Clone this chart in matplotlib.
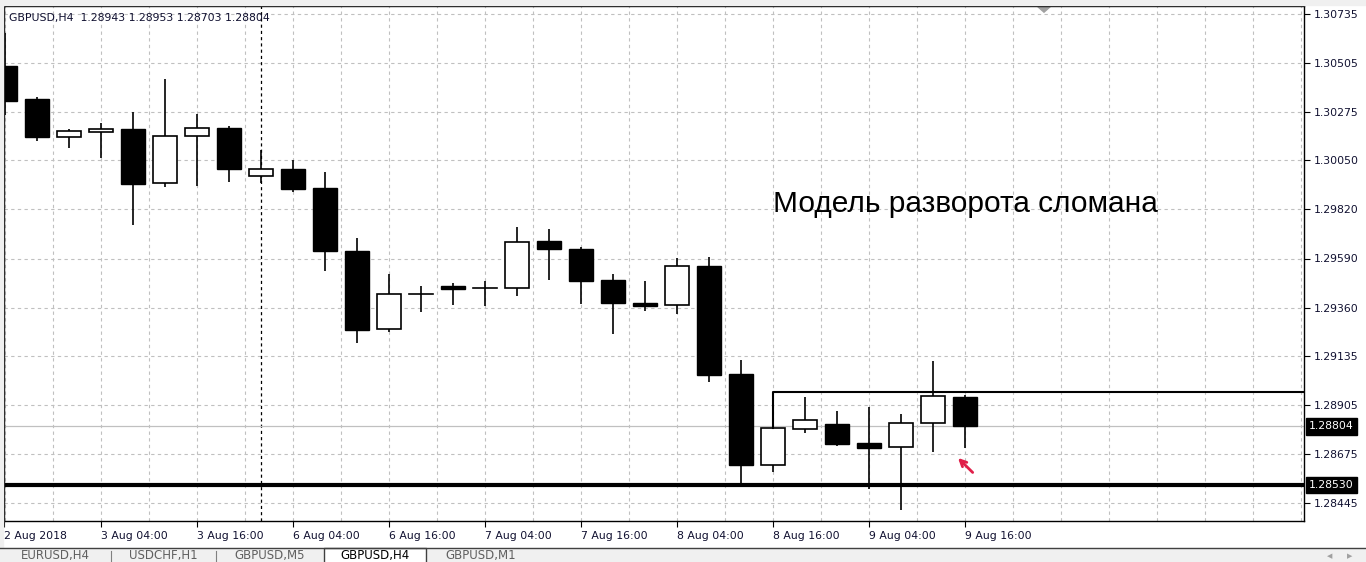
import numpy as np
import matplotlib.pyplot as plt
from matplotlib.patches import Rectangle, Polygon

# GBPUSD H4 candles (index 0 = first visible bar)
opens = [1.30491, 1.30337, 1.30158, 1.30181, 1.30198, 1.29942, 1.30165, 1.30201, 1.29975,
         1.30009, 1.29920, 1.29625, 1.29258, 1.29422, 1.29461, 1.29452, 1.29450, 1.29672,
         1.29635, 1.29489, 1.29382, 1.29371, 1.29555, 1.29049, 1.28622, 1.28790, 1.28815,
         1.28726, 1.28709, 1.28818, 1.28943]
closes = [1.30329, 1.30160, 1.30187, 1.30196, 1.29940, 1.30164, 1.30201, 1.30011, 1.30008,
          1.29917, 1.29627, 1.29255, 1.29422, 1.29422, 1.29449, 1.29452, 1.29666, 1.29633,
          1.29486, 1.29383, 1.29369, 1.29553, 1.29044, 1.28624, 1.28795, 1.28832, 1.28723,
          1.28704, 1.28818, 1.28946, 1.28804]
highs = [1.30646, 1.30346, 1.30196, 1.30225, 1.30276, 1.30431, 1.30267, 1.30211, 1.30097,
         1.30051, 1.29995, 1.29686, 1.29517, 1.29461, 1.29474, 1.29485, 1.29738, 1.29728,
         1.29644, 1.29517, 1.29485, 1.29592, 1.29598, 1.29115, 1.28796, 1.28941, 1.28876,
         1.28895, 1.28862, 1.29110, 1.28953]
lows = [1.30262, 1.30142, 1.30109, 1.30062, 1.29747, 1.29923, 1.29931, 1.29950, 1.29945,
        1.29900, 1.29533, 1.29196, 1.29247, 1.29341, 1.29372, 1.29368, 1.29416, 1.29491,
        1.29378, 1.29235, 1.29346, 1.29331, 1.29013, 1.28537, 1.28592, 1.28774, 1.28712,
        1.28512, 1.28414, 1.28684, 1.28703]

x_ticks = [-0.03, 3, 6, 9, 12, 15, 18, 21, 24, 27, 30]
x_labels = ['2 Aug 2018', '3 Aug 04:00', '3 Aug 16:00', '6 Aug 04:00', '6 Aug 16:00',
            '7 Aug 04:00', '7 Aug 16:00', '8 Aug 04:00', '8 Aug 16:00', '9 Aug 04:00',
            '9 Aug 16:00']
y_ticks = [1.28445, 1.28675, 1.28905, 1.29135, 1.29360, 1.29590, 1.29820, 1.30050,
           1.30275, 1.30505, 1.30735]

support_level = 1.28530
bid_price = 1.28804
box_top = 1.28966
box_start = 24
separator_bar = 8
tabs = ['EURUSD,H4', 'USDCHF,H1', 'GBPUSD,M5', 'GBPUSD,H4', 'GBPUSD,M1']
tab_edges = [0, 111, 216, 324, 426, 535]
active_tab = 3

W, H = 1366, 562
fig = plt.figure(figsize=(W / 100, H / 100), dpi=100)
fig.patch.set_facecolor('white')

# window chrome
fig.patches.append(Rectangle((0, 1 - 5 / H), 1, 5 / H, transform=fig.transFigure,
                             color='#f0f0f0', zorder=0))
fig.patches.append(Rectangle((0, 0), 3 / W, 1, transform=fig.transFigure,
                             color='#f0f0f0', zorder=0))
fig.patches.append(Rectangle((0, 0), 1, 14 / H, transform=fig.transFigure,
                             color='#f0f0f0', zorder=0))
fig.lines.append(plt.Line2D([0, 1], [14 / H, 14 / H], transform=fig.transFigure,
                            color='#404040', lw=1))
for i, name in enumerate(tabs):
    x0, x1 = tab_edges[i] / W, tab_edges[i + 1] / W
    if i == active_tab:
        fig.patches.append(Rectangle((x0, 0), x1 - x0, 15 / H, transform=fig.transFigure,
                                     color='white', zorder=1))
        fig.lines.append(plt.Line2D([x0, x0, x1, x1], [0, 14 / H, 14 / H, 0],
                                    transform=fig.transFigure, color='#404040', lw=1))
    elif i > 0 and i != active_tab + 1:
        fig.lines.append(plt.Line2D([x0, x0], [0, 11 / H], transform=fig.transFigure,
                                    color='#808080', lw=0.8))
    fig.text((x0 + x1) / 2, 6.5 / H, name, ha='center', va='center', fontsize=8.5,
             color='#000000' if i == active_tab else '#606060', family='DejaVu Sans')
fig.text(1330 / W, 6 / H, '◀', fontsize=5, color='#a0a0a0', ha='center', va='center')
fig.text(1350 / W, 6 / H, '▶', fontsize=5, color='#a0a0a0', ha='center', va='center')

ax = fig.add_axes([4 / W, (H - 521) / H, 1300 / W, 515 / H])
ax.set_xlim(-1 / 32, 1300 / 32 - 1 / 32)
p_per_px = 0.0229 / 489
ax.set_ylim(1.28445 - 18 * p_per_px, 1.30735 + 8 * p_per_px)

# grid
for g in np.arange(0, 41, 1.5):
    ax.axvline(g, color='#c0c0c0', lw=0.8, dashes=(3, 3), zorder=0)
for t in y_ticks:
    ax.axhline(t, color='#c0c0c0', lw=0.8, dashes=(3, 3), zorder=0)

ax.axvline(separator_bar, color='black', lw=0.9, dashes=(2.5, 2.5), zorder=1)

# bid line and support line
ax.axhline(bid_price, color='#c0c0c0', lw=0.9, zorder=1)
ax.axhline(support_level, color='black', lw=3, zorder=4)

# candles
bw = 0.75
for i in range(len(opens)):
    o, c, h, l = opens[i], closes[i], highs[i], lows[i]
    ax.plot([i, i], [l, h], color='black', lw=1.2, zorder=2, solid_capstyle='butt')
    lo, hi = min(o, c), max(o, c)
    if abs(c - o) < 1e-6:
        ax.plot([i - bw / 2, i + bw / 2], [o, o], color='black', lw=1.2, zorder=3)
    elif c < o:
        ax.add_patch(Rectangle((i - bw / 2, lo), bw, hi - lo, facecolor='black',
                               edgecolor='black', lw=1.0, zorder=3))
    else:
        ax.add_patch(Rectangle((i - bw / 2, lo), bw, hi - lo, facecolor='white',
                               edgecolor='black', lw=1.2, zorder=3))

# broken reversal box line
ax.plot([box_start, box_start, 41], [closes[box_start], box_top, box_top],
        color='black', lw=1.5, zorder=4, clip_on=True)

# red arrow pointing at last candle
ax.annotate('', xy=(29.78, 1.28656), xytext=(30.24, 1.28588),
            arrowprops=dict(arrowstyle='->,head_length=0.45,head_width=0.22',
                            color='#e0204a', lw=2.0, shrinkA=0, shrinkB=0), zorder=5)

ax.text(24, 1.29808, 'Модель разворота сломана', fontsize=21.5, family='Liberation Sans',
        ha='left', va='baseline', color='black', zorder=5)

ax.text(0.004, 0.987, 'GBPUSD,H4  1.28943 1.28953 1.28703 1.28804', transform=ax.transAxes,
        fontsize=7.8, color='#101030', ha='left', va='top', family='DejaVu Sans')

# chart shift marker
ax.add_patch(Polygon([[1033 / 1300, 1], [1047 / 1300, 1], [1040 / 1300, 0.988]],
                     closed=True, transform=ax.transAxes, color='#a0a0a0', clip_on=False))

# axes styling
for s in ax.spines.values():
    s.set_color('black')
    s.set_linewidth(1)
ax.yaxis.tick_right()
ax.set_yticks(y_ticks)
ax.set_yticklabels(['%.5f' % t for t in y_ticks])
ax.set_xticks(x_ticks)
ax.set_xticklabels(x_labels, ha='left')
ax.tick_params(axis='y', direction='out', length=4, width=0.8, pad=3, labelsize=7.8,
               colors='black', labelcolor='#101030')
ax.tick_params(axis='x', direction='out', length=4, width=0.8, pad=3, labelsize=7.8,
               labelcolor='#101030')

# price boxes on right scale
for price in [bid_price, support_level]:
    ax.annotate('%.5f' % price, xy=(1, price), xycoords=('axes fraction', 'data'),
                xytext=(3.5, 0), textcoords='offset points', ha='left', va='center',
                fontsize=7.8, color='white', family='DejaVu Sans',
                bbox=dict(boxstyle='square,pad=0.3', fc='black', ec='black'), zorder=6,
                annotation_clip=False)

fig.savefig('out.png', dpi=100)
